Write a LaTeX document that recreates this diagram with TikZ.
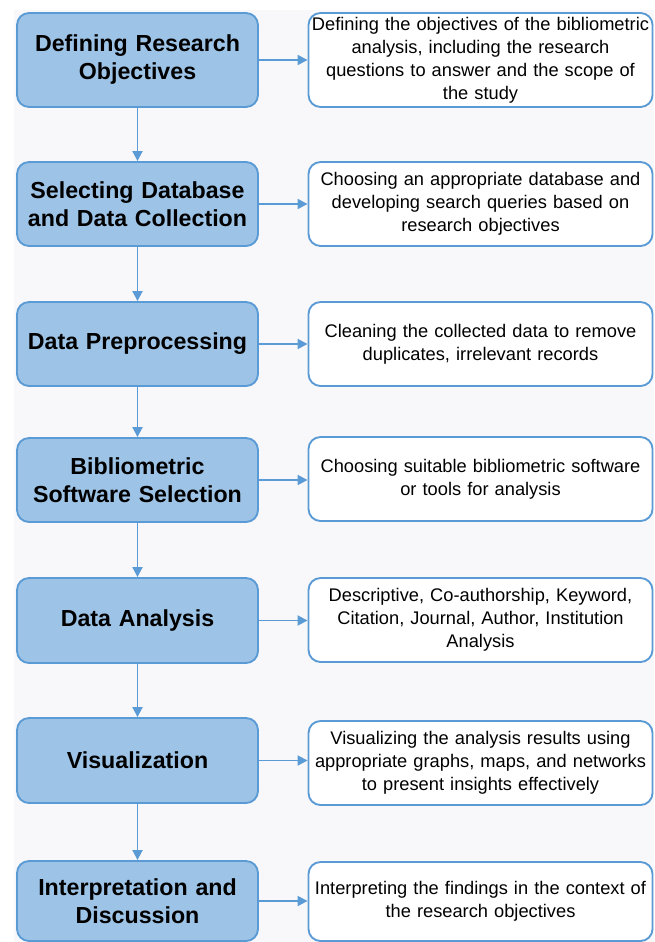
\documentclass[tikz,border=0pt]{standalone}
\usepackage{fontspec}
\setmainfont{Liberation Sans}
\usetikzlibrary{arrows.meta}
\definecolor{bgc}{HTML}{F8F8FA}
\definecolor{lfill}{HTML}{9DC3E6}
\definecolor{edge}{HTML}{5B9BD5}
\begin{document}
\begin{tikzpicture}[x=0.75pt,y=-0.75pt,
  lbox/.style={draw=edge,fill=lfill,line width=1.4pt,rounded corners=9pt,
    minimum width=180.75pt,inner sep=0pt,align=center,text width=176pt,
    font=\bfseries\fontsize{17.4}{21}\selectfont},
  rbox/.style={draw=edge,fill=white,line width=1.4pt,rounded corners=9pt,
    minimum width=258pt,inner sep=0pt,align=center,text width=258pt,
    font=\fontsize{13.7}{17.2}\selectfont},
  arr/.style={draw=edge,line width=1.4pt,-{Triangle[length=7.5pt,width=7.5pt]}}]
\useasboundingbox (0,0) rectangle (654,942);
\fill[white] (0,0) rectangle (654,942);
\fill[bgc] (14,10) rectangle (654,942);
% left boxes
\node[lbox,minimum height=70.5pt] (l1) at (137.5,60) {Defining Research\\Objectives};
\node[lbox,minimum height=63pt] (l2) at (137.5,204) {Selecting Database\\and Data Collection};
\node[lbox,minimum height=63pt] (l3) at (137.5,344) {Data Preprocessing};
\node[lbox,minimum height=63pt] (l4) at (137.5,480) {Bibliometric\\Software Selection};
\node[lbox,minimum height=63.75pt] (l5) at (137.5,620.5) {Data Analysis};
\node[lbox,minimum height=63.75pt] (l6) at (137.5,760.5) {Visualization};
\node[lbox,minimum height=60pt] (l7) at (137.5,901) {Interpretation and\\Discussion};
% right boxes
\node[rbox,minimum height=70.5pt] (r1) at (480.5,60) {Defining the objectives of the bibliometric\\analysis, including the research\\questions to answer and the scope of\\the study};
\node[rbox,minimum height=63pt] (r2) at (480.5,204) {Choosing an appropriate database and\\developing search queries based on\\research objectives};
\node[rbox,minimum height=63pt] (r3) at (480.5,344) {Cleaning the collected data to remove\\duplicates, irrelevant records};
\node[rbox,minimum height=63pt] (r4) at (480.5,479) {Choosing suitable bibliometric software\\or tools for analysis};
\node[rbox,minimum height=63pt] (r5) at (480.5,620) {Descriptive, Co-authorship, Keyword,\\Citation, Journal, Author, Institution\\Analysis};
\node[rbox,minimum height=63pt] (r6) at (480.5,763) {Visualizing the analysis results using\\appropriate graphs, maps, and networks\\to present insights effectively};
\node[rbox,minimum height=59.25pt] (r7) at (480.5,901.5) {Interpreting the findings in the context of\\the research objectives};
% arrows
\foreach \i/\j in {1/2,2/3,3/4,4/5,5/6,6/7}{
  \draw[arr] (l\i.south) -- (l\j.north);
}
\foreach \i in {1,...,7}{
  \draw[arr] (l\i.east) -- (l\i.east -| r\i.west);
}
\end{tikzpicture}
\end{document}
